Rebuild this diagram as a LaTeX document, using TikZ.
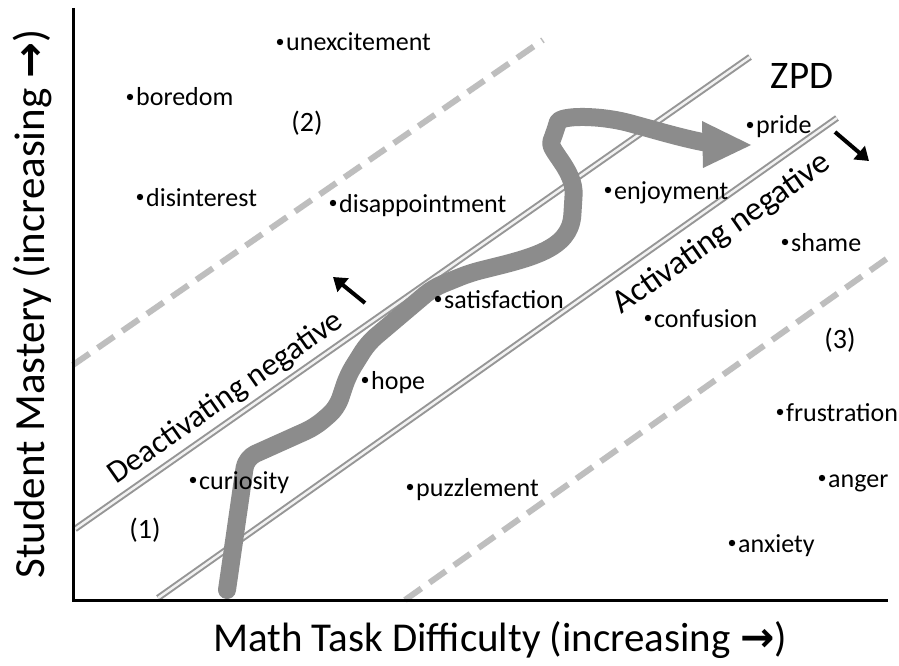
\documentclass[tikz,border=0pt]{standalone}
\usepackage{fontspec}
\setmainfont{Carlito}
\newfontfamily\arrfont{DejaVu Sans}
\usetikzlibrary{arrows.meta,calc}
\definecolor{flowgray}{RGB}{140,140,140}
\definecolor{dashgray}{RGB}{190,190,190}
\definecolor{zpdgray}{RGB}{150,150,150}
\newcommand\emotion[4]{%
  \fill (#2,#3) circle[radius=3.2pt];
  \node[emo] (#1) at (#2+6,#3+9) {#4};}
\begin{document}
\begin{tikzpicture}[x=1pt,y=-1pt,
  axis/.style={line width=3pt, draw=black},
  zpdline/.style={draw=zpdgray, line width=2pt, double=white!95!black, double distance=2.5pt},
  dashline/.style={draw=dashgray, line width=6pt, dash pattern=on 20pt off 10pt},
  flow/.style={draw=flowgray, line width=18pt, line cap=round, line join=round},
  push/.style={draw=black, line width=4pt, -{Triangle[length=13pt,width=17pt]}},
  emo/.style={anchor=base west, inner sep=0pt, font=\fontsize{26}{30}\selectfont},
  region/.style={font=\fontsize{28}{32}\selectfont, inner sep=0pt},
  zonelabel/.style={rotate=35, inner sep=0pt},
  axlabel/.style={font=\fontsize{41}{48}\selectfont, inner sep=0pt}
]
\useasboundingbox[fill=white] (0,0) rectangle (899,666);

% dashed region borders
\draw[dashline] (73,365) -- (543,40);
\draw[dashline] (405,600) -- (892,255);

% ZPD borders
\draw[zpdline] (75,529) -- (750,57);
\draw[zpdline] (158,598) -- (837,118);

% axes
\coordinate (origin) at (73,600);
\coordinate (ytop) at (73,8);
\coordinate (xend) at (888,600);
\draw[axis] (ytop) -- (origin) -- (xend);

% learning trajectory
\coordinate (fstart) at (227,590);
\coordinate (fend) at (708,143);
\draw[flow, rounded corners=10pt] (fstart) -- (246,458) -- (315,427) -- (337,408) -- (348,375) -- (368,343) -- (433,288) -- (470,273)
  .. controls (530,258) and (570,250) .. (573,205)
  .. controls (575,170) and (548,150) .. (555,132)
  .. controls (560,115) and (600,115) .. (640,126)
  .. controls (665,133) and (690,140) .. (fend);
\fill[flowgray] (702,121) -- (751,145) -- (703,168) -- cycle;

% push arrows
\coordinate (pa1) at (365,303);
\coordinate (pa2) at (333,277);
\draw[push] (pa1) -- (pa2);
\coordinate (pb1) at (835,132);
\coordinate (pb2) at (869,161);
\draw[push] (pb1) -- (pb2);

% zone labels
\node[zonelabel, font=\fontsize{32}{38}\selectfont] (deact) at (226,398) {Deactivating negative};
\node[zonelabel, font=\fontsize{33.5}{38}\selectfont] (act) at (722,234) {Activating negative};
\node[font=\fontsize{39}{44}\selectfont, inner sep=0pt] (zpd) at (802,76) {ZPD};

% regions
\node[region] (r1) at (145,530) {(1)};
\node[region] (r2) at (307,123) {(2)};
\node[region] (r3) at (840,340) {(3)};

% emotions
\emotion{unexc}{280}{42}{unexcitement}
\emotion{bored}{130}{97}{boredom}
\emotion{disint}{140}{197}{disinterest}
\emotion{disapp}{333}{203}{disappointment}
\emotion{enjoy}{608}{190}{enjoyment}
\emotion{pride}{750}{125}{pride}
\emotion{shame}{785}{242}{shame}
\emotion{satis}{438}{299}{satisfaction}
\emotion{confus}{648}{318}{confusion}
\emotion{hope}{365}{380}{hope}
\emotion{frust}{780}{412}{frustration}
\emotion{curio}{193}{480}{curiosity}
\emotion{puzzle}{410}{487}{puzzlement}
\emotion{anger}{822}{478}{anger}
\emotion{anxiety}{732}{543}{anxiety}

% axis labels
\node[axlabel] (xlab) at (500,640) {Math Task Difficulty (increasing {\arrfont\bfseries →})};
\node[axlabel, font=\fontsize{43}{48}\selectfont, rotate=90] (ylab) at (32,304) {Student Mastery (increasing {\arrfont\bfseries →})};
\end{tikzpicture}
\end{document}
